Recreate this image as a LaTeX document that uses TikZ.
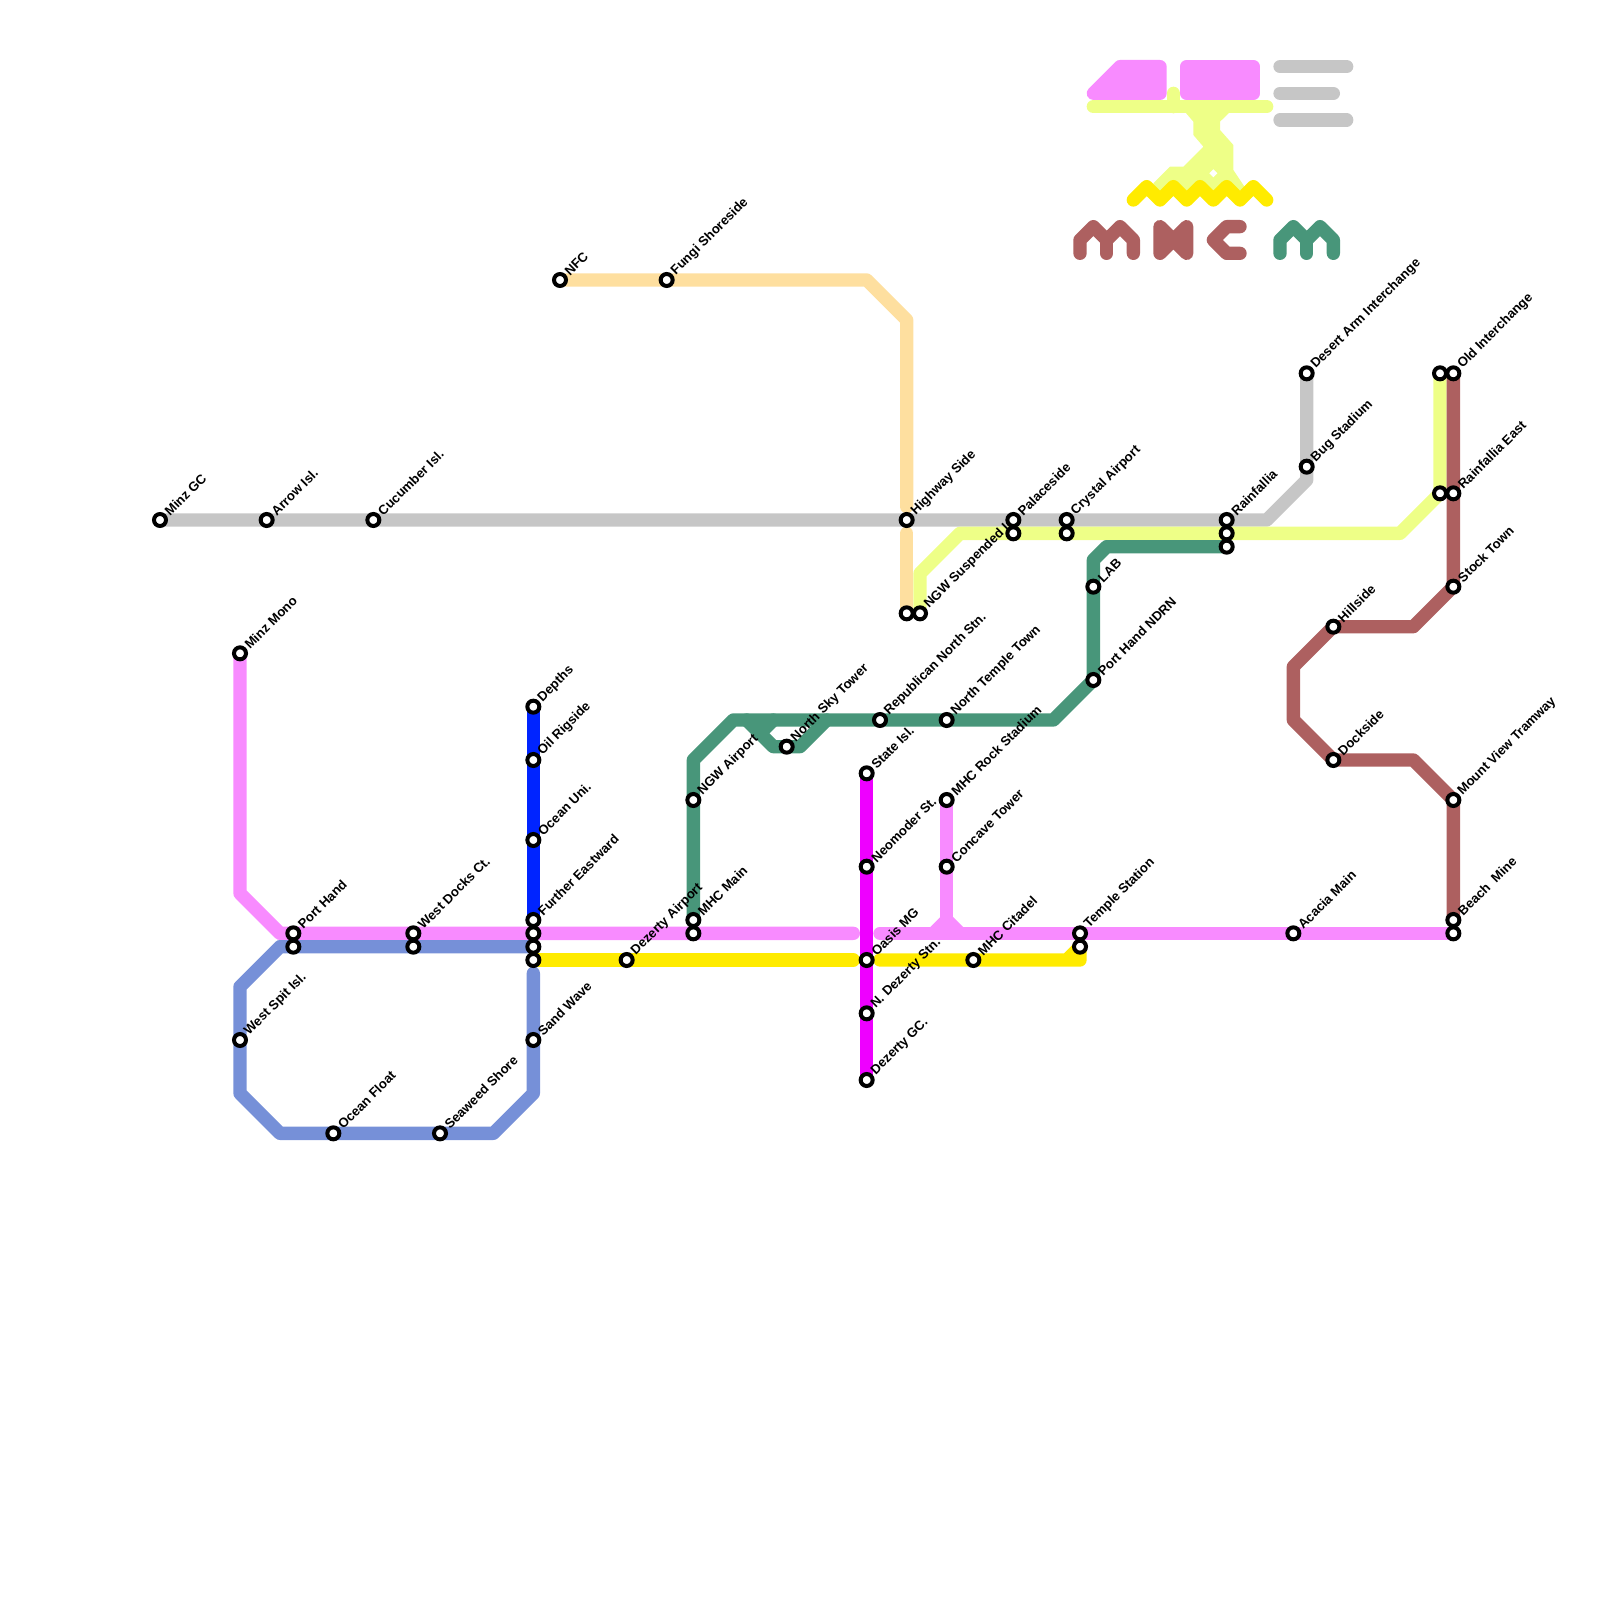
\documentclass[tikz,border=0pt]{standalone}
\usepackage{fontspec}
\setmainfont{Liberation Sans}
\usetikzlibrary{backgrounds}

\definecolor{pinkline}{HTML}{F88BFF}
\definecolor{greyline}{HTML}{C6C6C6}
\definecolor{peachline}{HTML}{FEDF9F}
\definecolor{blueline}{HTML}{0024FF}
\definecolor{magentaline}{HTML}{EE00FF}
\definecolor{periline}{HTML}{7690D8}
\definecolor{yellowline}{HTML}{FFEB00}
\definecolor{limeline}{HTML}{EEFF87}
\definecolor{greenline}{HTML}{48967A}
\definecolor{brownline}{HTML}{AD6060}

\begin{document}
\begin{tikzpicture}[
    x=0.2cm,
    y=-0.2cm,
    stn/.style={
        circle,
        draw=black,
        fill=white,
        line width=0.06cm,
        minimum size=0.18cm,
        inner sep=0pt
    },
    lbl/.style={
        rotate=45,
        anchor=west,
        inner sep=0.5pt,
        font=\bfseries\fontsize{5.6}{6.5}\selectfont
    },
    metro/.style={
        line width=0.2cm,
        line cap=round,
        line join=round
    }
]

\useasboundingbox (0,0) rectangle (120,120);

% Stations
\foreach \nm/\x/\y/\txt in {
    minzgc/12/39/Minz GC, arrow/20/39/Arrow Isl., cucumber/28/39/Cucumber Isl.,
    highway/68/39/Highway Side, palace/76/39/Palaceside, crystal/80/39/Crystal Airport,
    rainfallia/92/39/Rainfallia, bug/98/35/Bug Stadium, desert/98/28/Desert Arm Interchange,
    nfc/42/21/NFC, fungi/50/21/Fungi Shoreside,
    minzmono/18/49/Minz Mono, porthand/22/70/Port Hand, westdocks/31/70/West Docks Ct.,
    depths/40/53/Depths, oilrig/40/57/Oil Rigside, oceanuni/40/63/Ocean Uni.,
    further/40/69/Further Eastward, mhcmain/52/69/MHC Main,
    ngwair/52/60/NGW Airport, northsky/59/56/North Sky Tower,
    republican/66/54/Republican North Stn., northtemple/71/54/North Temple Town,
    statei/65/58/State Isl., neomoder/65/65/Neomoder St., oasis/65/72/Oasis MG,
    ndezerty/65/76/N. Dezerty Stn., dezertygc/65/81/Dezerty GC.,
    rockstad/71/60/MHC Rock Stadium, concave/71/65/Concave Tower,
    citadel/73/72/MHC Citadel, temple/81/70/Temple Station,
    dezair/47/72/Dezerty Airport, westspit/18/78/West Spit Isl.,
    oceanfloat/25/85/Ocean Float, seaweed/33/85/Seaweed Shore, sandwave/40/78/Sand Wave,
    ngwsusp/69/46/NGW Suspended I., lab/82/44/LAB, portndrn/82/51/Port Hand NDRN,
    oldint/109/28/Old Interchange, rainest/109/37/Rainfallia East, stock/109/44/Stock Town,
    hillside/100/47/Hillside, dockside/100/57/Dockside, mountview/109/60/Mount View Tramway,
    beach/109/69/Beach~~Mine, acacia/97/70/Acacia Main
} {
    \node[stn, label={[lbl]45:\txt}] (\nm) at (\x,\y) {};
}

% Stations without a label of their own
\foreach \nm/\x/\y in {
    portb/22/71, westb/31/71, pinkj/40/70, perij/40/71, yellowj/40/72,
    mhcb/52/70, templeb/81/71, palaceb/76/40, crystalb/80/40, rainb/92/40,
    raing/92/41, highwayb/68/46, oldb/108/28, rainestb/108/37, beachb/109/70
} {
    \node[stn] (\nm) at (\x,\y) {};
}

% Free line ends
\coordinate (greyend) at (95,39);
\coordinate (peachup) at (68,38);
\coordinate (peachdown) at (68,40);
\coordinate (pinkleft) at (64,70);
\coordinate (pinkright) at (66,70);
\coordinate (yellowleft) at (64,72);
\coordinate (yellowright) at (66,72);
\coordinate (perifree) at (40,73);
\coordinate (pinkstem) at (71,69);

\begin{scope}[on background layer]
% Routes
\draw[metro, greyline] (minzgc.center) -- (greyend) -- (98,36) -- (desert.center);
\draw[metro, peachline] (nfc.center) -- (65,21) -- (68,24) -- (peachup);
\draw[metro, peachline] (peachdown) -- (highwayb.center);
\draw[metro, limeline] (ngwsusp.center) -- (69,43) -- (72,40) -- (105,40) -- (108,37) -- (oldb.center);
\draw[metro, blueline] (depths.center) -- (further.center);
\draw[metro, magentaline] (statei.center) -- (dezertygc.center);
\draw[metro, pinkline] (minzmono.center) -- (18,67) -- (21,70) -- (pinkleft);
\draw[metro, pinkline] (pinkright) -- (beachb.center);
\draw[metro, pinkline] (rockstad.center) -- (pinkstem);
\draw[metro, pinkline] (70,70) -- (pinkstem) -- (72,70);
\draw[metro, yellowline] (yellowj.center) -- (yellowleft);
\draw[metro, yellowline] (yellowright) -- (81,72) -- (templeb.center) -- (80,72);
\draw[metro, periline] (perij.center) -- (21,71) -- (18,74) -- (18,82) -- (21,85) -- (37,85) -- (40,82) -- (perifree);
\draw[metro, greenline] (mhcmain.center) -- (52,57) -- (55,54) -- (79,54) -- (82,51) -- (82,42) -- (83,41) -- (raing.center);
\draw[metro, greenline] (56,54) -- (58,56) -- (60,56) -- (62,54);
\draw[metro, greenline] (58,54) -- (57,55);
\draw[metro, brownline] (oldint.center) -- (stock.center) -- (106,47) -- (hillside.center) -- (97,50) -- (97,54) -- (dockside.center) -- (106,57) -- (mountview.center) -- (beach.center);

% Emblem
\draw[metro, pinkline, fill=pinkline] (89,7) -- (94,7) -- (94,5) -- (89,5) -- cycle;
\draw[metro, pinkline, fill=pinkline] (82,7) -- (87,7) -- (87,5) -- (84,5) -- cycle;
\draw[metro, greyline] (96,5) -- (101,5);
\draw[metro, greyline] (96,7) -- (100,7);
\draw[metro, greyline] (96,9) -- (101,9);
\fill[limeline] (88.875,8.4) -- (89.5,9.125) -- (89.5,10.125) -- (90.25,11) -- (88.75,12.5)
    -- (87.75,12.5) -- (86.5,13.75) -- (87,14.5) -- (93.5,14.25) -- (92.5,12.75)
    -- (92.5,10.875) -- (91.5,9.75) -- (91.5,9.125) -- (92.25,8.4) -- cycle;
\fill[white] (91,12.7) -- (91.3,13) -- (91,13.3) -- (90.7,13) -- cycle;
\draw[metro, limeline] (82,8) -- (95,8);
\draw[metro, limeline] (88,7) -- (88,8);
\draw[metro, yellowline] (85,15) -- (86,14) -- (87,15) -- (88,14) -- (89,15) -- (90,14)
    -- (91,15) -- (92,14) -- (93,15) -- (94,14) -- (95,15);
\draw[metro, brownline] (81,19) -- (81,18) -- (82,17) -- (83,18) -- (84,17) -- (85,18) -- (85,19);
\draw[metro, brownline] (83,18) -- (83,19);
\draw[metro, brownline] (87,19) -- (87,17) -- (89,19) -- (89,17) -- (87,19);
\draw[metro, brownline] (93,17) -- (92,17) -- (91,18) -- (92,19) -- (93,19);
\draw[metro, greenline] (96,19) -- (96,18) -- (97,17) -- (98,18) -- (99,17) -- (100,18) -- (100,19);
\draw[metro, greenline] (98,18) -- (98,19);
\end{scope}

\end{tikzpicture}
\end{document}
